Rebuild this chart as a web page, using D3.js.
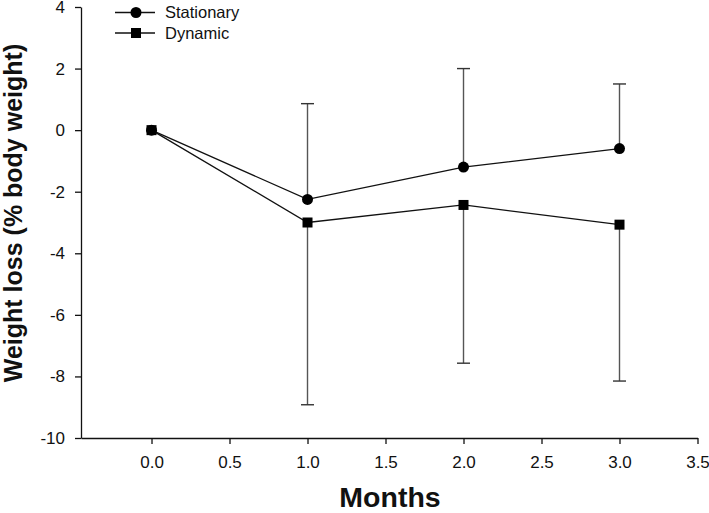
<!DOCTYPE html>
<html><head><meta charset="utf-8">
<script src="https://cdn.jsdelivr.net/npm/d3@7"></script>
<style>body{margin:0;background:#fff}svg{display:block}text{font-family:Arial,"Liberation Sans",sans-serif}</style>
</head><body>
<svg id="c" width="709" height="513"></svg>
<script>
const months = [0, 1, 2, 3];
const stationary = [0, -2.25, -1.2, -0.6];
const stationaryUpper = [0, 0.86, 2.0, 1.5];
const dynamic = [0, -3.0, -2.43, -3.07];
const dynamicLower = [0, -8.92, -7.57, -8.15];
const xTicks = [0, 0.5, 1, 1.5, 2, 2.5, 3, 3.5];
const yTicks = [-10, -8, -6, -4, -2, 0, 2, 4];
const seriesNames = ["Stationary", "Dynamic"];

const svg = d3.select("#c");
const x = d3.scaleLinear().domain([-0.452, 3.5]).range([81, 697.5]);
const y = d3.scaleLinear().domain([-10, 4]).range([438, 7]);

const xAxis = svg.append("g").attr("transform", "translate(0,438)")
  .call(d3.axisBottom(x).tickValues(xTicks).tickFormat(d3.format(".1f")).tickSize(6).tickSizeOuter(0));
const yAxis = svg.append("g").attr("transform", "translate(81,0)")
  .call(d3.axisLeft(y).tickValues(yTicks).tickFormat(d => d).tickSize(6).tickSizeOuter(0));
[xAxis, yAxis].forEach(a => {
  a.selectAll("path,line").attr("stroke", "#111").attr("stroke-width", 1.3);
  a.selectAll("text").attr("font-size", 17).attr("fill", "#111").attr("font-family", "Arial, 'Liberation Sans', sans-serif");
});
xAxis.selectAll("text").attr("dy", "1.25em");
yAxis.selectAll("text").attr("x", -16);

// error bars
const cap = 6.5;
function errBars(vals, ends) {
  months.forEach((m, i) => {
    if (i === 0) return;
    svg.append("line").attr("x1", x(m)).attr("x2", x(m)).attr("y1", y(vals[i])).attr("y2", y(ends[i]))
      .attr("stroke", "#555").attr("stroke-width", 1.4);
    svg.append("line").attr("x1", x(m) - cap).attr("x2", x(m) + cap).attr("y1", y(ends[i])).attr("y2", y(ends[i]))
      .attr("stroke", "#333").attr("stroke-width", 1.4);
  });
}
errBars(stationary, stationaryUpper);
errBars(dynamic, dynamicLower);

const line = d3.line().x((d, i) => x(months[i])).y(d => y(d));
[stationary, dynamic].forEach(s => {
  svg.append("path").attr("d", line(s)).attr("fill", "none").attr("stroke", "#111").attr("stroke-width", 1.3);
});

svg.selectAll("rect.dyn").data(dynamic).enter().append("rect")
  .attr("x", (d, i) => x(months[i]) - 5).attr("y", d => y(d) - 5).attr("width", 10).attr("height", 10).attr("fill", "#000");
svg.selectAll("circle.st").data(stationary).enter().append("circle")
  .attr("cx", (d, i) => x(months[i])).attr("cy", d => y(d)).attr("r", 5.5).attr("fill", "#000");

// legend
const leg = svg.append("g");
seriesNames.forEach((name, i) => {
  const ly = 12.5 + i * 20.5;
  leg.append("line").attr("x1", 115).attr("x2", 155).attr("y1", ly).attr("y2", ly).attr("stroke", "#111").attr("stroke-width", 1.3);
  if (i === 0) leg.append("circle").attr("cx", 136).attr("cy", ly).attr("r", 5.5).attr("fill", "#000");
  else leg.append("rect").attr("x", 131).attr("y", ly - 5).attr("width", 10).attr("height", 10).attr("fill", "#000");
  leg.append("text").attr("x", 165).attr("y", ly).attr("dy", "0.36em").attr("font-size", 16.5).attr("fill", "#111").text(name);
});

svg.append("text").attr("x", 390).attr("y", 507).attr("text-anchor", "middle")
  .attr("font-size", 28.5).attr("font-weight", "bold").attr("fill", "#111").text("Months");
svg.append("text").attr("transform", "translate(22,213) rotate(-90)").attr("text-anchor", "middle")
  .attr("font-size", 25).attr("font-weight", "bold").attr("fill", "#111").text("Weight loss (% body weight)");
</script>
</body></html>
